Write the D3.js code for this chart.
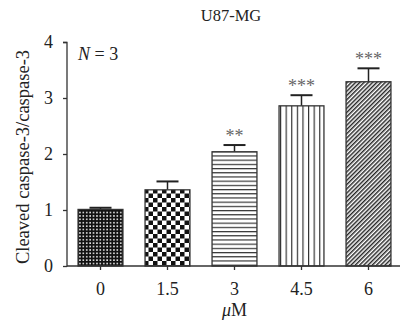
<!DOCTYPE html>
<html><head><meta charset="utf-8">
<script src="https://cdn.jsdelivr.net/npm/d3@7"></script>
<style>html,body{margin:0;padding:0;background:#fff}svg{display:block}text{font-family:"Liberation Serif","DejaVu Serif",serif;fill:#222}</style>
</head><body>
<script>
const categories = ["0","1.5","3","4.5","6"];
const means = [1.01, 1.36, 2.04, 2.86, 3.29];
const errors = [0.03, 0.15, 0.12, 0.19, 0.24];
const stars = ["", "", "**", "***", "***"];
const yTicks = [0,1,2,3,4];
const patterns = ["pDots","pChecker","pHoriz","pVert","pDiag"];

const W=400,H=328;
const FONT='"Liberation Serif","DejaVu Serif",serif';
const svg=d3.select("body").append("svg").attr("width",W).attr("height",H);
const defs=svg.append("defs");
let p=defs.append("pattern").attr("id","pDots").attr("patternUnits","userSpaceOnUse").attr("width",3.4).attr("height",3.4);
p.append("rect").attr("width",3.4).attr("height",3.4).attr("fill","#111");
p.append("rect").attr("x",1).attr("y",1).attr("width",1.5).attr("height",1.5).attr("fill","#fff");
p=defs.append("pattern").attr("id","pChecker").attr("patternUnits","userSpaceOnUse").attr("width",9).attr("height",9);
p.append("rect").attr("width",9).attr("height",9).attr("fill","#fff");
p.append("rect").attr("width",4.5).attr("height",4.5).attr("fill","#111");
p.append("rect").attr("x",4.5).attr("y",4.5).attr("width",4.5).attr("height",4.5).attr("fill","#111");
p=defs.append("pattern").attr("id","pHoriz").attr("patternUnits","userSpaceOnUse").attr("width",10).attr("height",4.2);
p.append("rect").attr("width",10).attr("height",4.2).attr("fill","#fff");
p.append("line").attr("x1",0).attr("x2",10).attr("y1",0.6).attr("y2",0.6).attr("stroke","#222").attr("stroke-width",1.1);
p=defs.append("pattern").attr("id","pVert").attr("patternUnits","userSpaceOnUse").attr("width",5.6).attr("height",10);
p.append("rect").attr("width",5.6).attr("height",10).attr("fill","#fff");
p.append("line").attr("y1",0).attr("y2",10).attr("x1",0.6).attr("x2",0.6).attr("stroke","#222").attr("stroke-width",1.1);
p=defs.append("pattern").attr("id","pDiag").attr("patternUnits","userSpaceOnUse").attr("width",3).attr("height",3).attr("patternTransform","rotate(45)");
p.append("rect").attr("width",3).attr("height",3).attr("fill","#fff");
p.append("line").attr("x1",0.75).attr("x2",0.75).attr("y1",0).attr("y2",3).attr("stroke","#1a1a1a").attr("stroke-width",1.4);

const x=d3.scaleBand().domain(categories).range([67,402]).paddingInner(0.33).paddingOuter(0.165);
const y=d3.scaleLinear().domain([0,4]).range([266,42]);

const bars=svg.append("g");
categories.forEach((c,i)=>{
  const cx=x(c)+x.bandwidth()/2;
  const top=y(means[i]+errors[i]);
  bars.append("line").attr("x1",cx).attr("x2",cx).attr("y1",y(means[i])).attr("y2",top).attr("stroke","#222").attr("stroke-width",1.5);
  bars.append("line").attr("x1",cx-11).attr("x2",cx+11).attr("y1",top).attr("y2",top).attr("stroke","#222").attr("stroke-width",2);
  bars.append("rect").attr("x",x(c)).attr("y",y(means[i])).attr("width",x.bandwidth()).attr("height",y(0)-y(means[i]))
    .attr("fill","url(#"+patterns[i]+")").attr("stroke","#333").attr("stroke-width",1.3);
  if(stars[i]) bars.append("text").attr("x",cx).attr("y",top-3).attr("text-anchor","middle").attr("font-size",18).style("fill","#666").style("letter-spacing","0px").text(stars[i]);
});

const ya=svg.append("g").attr("transform","translate(67,0)").call(d3.axisLeft(y).tickValues(yTicks).tickSize(4).tickPadding(10).tickFormat(d3.format("d")));
const xa=svg.append("g").attr("transform","translate(0,266)").call(d3.axisBottom(x).tickSize(4).tickPadding(12).tickSizeOuter(0));
[ya,xa].forEach(a=>{a.attr("font-family",FONT).attr("font-size",18);a.select(".domain").attr("stroke","#333").attr("stroke-width",1.3);a.selectAll(".tick line").attr("stroke","#333").attr("stroke-width",1.3);a.selectAll("text").attr("font-size",18).style("fill","#222");});
ya.select(".domain").attr("d","M-4,42.5H0V266.5");
xa.select(".domain").attr("d","M67,0H402");

svg.append("text").attr("x",231).attr("y",21).attr("text-anchor","middle").attr("font-size",16.5).text("U87-MG");
svg.append("text").attr("transform","translate(29,157) rotate(-90)").attr("text-anchor","middle").attr("font-size",18.5).text("Cleaved caspase-3/caspase-3");
svg.append("text").attr("x",x("3")+x.bandwidth()/2).attr("y",316).attr("text-anchor","middle").attr("font-size",18)
  .html('<tspan font-style="italic">μ</tspan>M');
svg.append("text").attr("x",78).attr("y",60).attr("font-size",18).html('<tspan font-style="italic">N</tspan> = 3');
</script>
</body></html>
